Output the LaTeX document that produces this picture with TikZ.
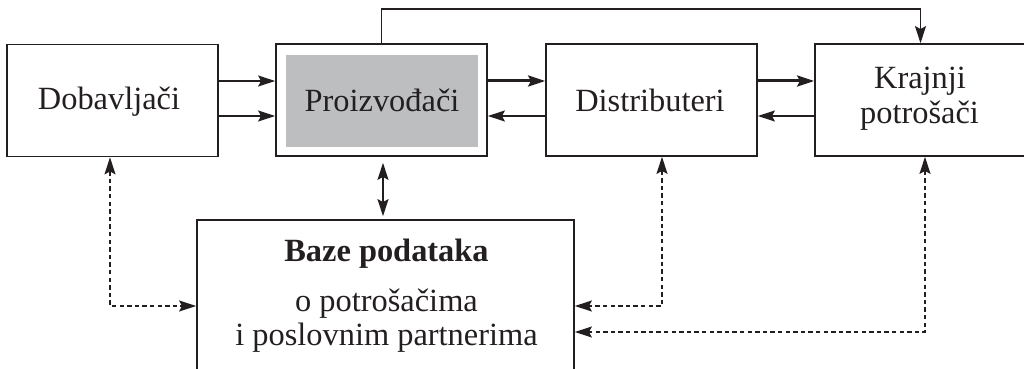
\documentclass[tikz,border=0pt]{standalone}
\usepackage{fontspec}
\setmainfont{Liberation Serif}
\usetikzlibrary{arrows.meta}
\definecolor{ink}{HTML}{231F20}
\definecolor{fillgrey}{HTML}{BCBEC0}
\begin{document}
\begin{tikzpicture}[x=0.5pt,y=-0.5pt,
  box/.style={draw=ink,line width=0.85pt,inner sep=0pt,minimum width=105.5pt,minimum height=56pt},
  lbl/.style={anchor=base,font=\fontsize{16.2}{19}\selectfont,text=ink,inner sep=0pt},
  tip/.tip={Stealth[length=8.5pt,width=5.5pt,inset=1.4pt]},
  arr/.style={draw=ink,line width=0.65pt,-tip},
  heavy/.style={draw=ink,line width=1.5pt,-tip},
  both/.style={draw=ink,line width=0.65pt,tip-tip},
  darr/.style={draw=ink,line width=0.65pt,dash pattern=on 2.2pt off 1.6pt,tip-tip}
]
\useasboundingbox (0,0) rectangle (1024,369);
\clip (0,0) rectangle (1024,369);

% boxes
\node[box] (dob) at (112.5,100.5) {};
\node[box] (pro) at (381.5,100) {};
\node[fill=fillgrey,inner sep=0pt,minimum width=96pt,minimum height=46pt] (grey) at (382,101) {};
\node[box] (dis) at (651.5,100) {};
\node[box] (kra) at (920.5,100) {};
\node[draw=ink,line width=0.85pt,inner sep=0pt,minimum width=188.5pt,minimum height=100pt] (baze) at (385.5,320) {};

% labels
\node[lbl] (tdob) at (109,110) {Dobavljači};
\node[lbl] (tpro) at (382,112) {Proizvođači};
\node[lbl] (tdis) at (650,112) {Distributeri};
\node[lbl] (tkra1) at (920,89) {Krajnji};
\node[lbl] (tkra2) at (919.5,124) {potrošači};
\node[lbl,font=\fontsize{16.2}{19}\selectfont\bfseries] (tb1) at (386.5,262) {Baze podataka};
\node[lbl] (tb2) at (386.5,312) {o potrošačima};
\node[lbl] (tb3) at (386.5,345) {i poslovnim partnerima};

% helper rows
\coordinate (r1) at (0,81);
\coordinate (r2) at (0,116);
\coordinate (top) at (0,9);
\coordinate (d1) at (0,306);
\coordinate (d2) at (0,332);

% solid connectors
\draw[arr] (dob.east |- r1) -- (pro.west |- r1);
\draw[arr] (dob.east |- r2) -- (pro.west |- r2);
\draw[heavy] (pro.east |- r1) -- (dis.west |- r1);
\draw[arr] (dis.west |- r2) -- (pro.east |- r2);
\draw[heavy] (dis.east |- r1) -- (kra.west |- r1);
\draw[arr] (kra.west |- r2) -- (dis.east |- r2);
\draw[arr] (pro.north) -- (pro.north |- top) -| (kra.north);
\draw[both,shorten <=3pt,shorten >=1.5pt] ([xshift=0.75pt]pro.south) -- ([xshift=0.75pt]pro.south |- baze.north);

% dashed connectors
\draw[darr] ([xshift=-1.25pt]dob.south) |- (baze.west |- d1);
\draw[darr] ([xshift=5.25pt]dis.south) |- (baze.east |- d1);
\draw[darr] ([xshift=2.25pt]kra.south) |- (baze.east |- d2);
\end{tikzpicture}
\end{document}
